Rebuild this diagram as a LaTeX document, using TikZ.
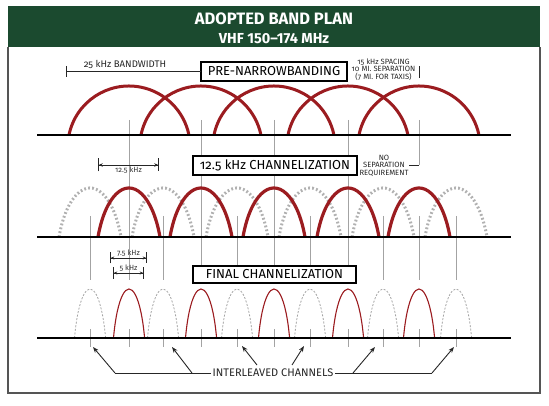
\documentclass[tikz,border=0pt]{standalone}
\usepackage{fontspec}
\setmainfont{Fira Sans}
\newfontfamily\osf[Numbers=OldStyle]{Fira Sans}
\usetikzlibrary{arrows.meta}
\definecolor{bandgreen}{HTML}{1B4A2F}
\definecolor{bandred}{HTML}{9B1C20}
\definecolor{tickgray}{HTML}{A3A3A3}
\definecolor{frameline}{HTML}{555555}
\tikzstyle{every node}=[inner sep=0pt, outer sep=0pt]
\tikzstyle{tick}=[draw=tickgray, line width=0.7pt]
\tikzstyle{base}=[draw=black, line width=2pt]
\tikzstyle{widechan}=[draw=bandred, line width=3pt]
\tikzstyle{midchan}=[draw=bandred, line width=3.2pt]
\tikzstyle{midgap}=[draw=tickgray!85, line width=3pt, dash pattern=on 1.8pt off 2.2pt]
\tikzstyle{finchan}=[draw=bandred, line width=1.1pt]
\tikzstyle{fingap}=[draw=tickgray, line width=0.8pt, dash pattern=on 2pt off 1.6pt]
\tikzstyle{planbox}=[draw=black, line width=1.6pt, fill=white, font=\osf\fontsize{13}{13}\selectfont]
\tikzstyle{note}=[font=\osf\fontsize{7.6}{7.7}\selectfont, align=center, text=black!85]
\tikzstyle{dimtxt}=[font=\osf\fontsize{7.5}{8}\selectfont, text=black!80]
\tikzstyle{dimwide}=[draw=black!85, line width=0.7pt, {Bar[width=13pt]Stealth[length=4pt,width=3.5pt]}-{Stealth[length=4pt,width=3.5pt]Bar[width=13pt]}]
\tikzstyle{dimnarrow}=[draw=black!85, line width=0.7pt, {Bar[width=11pt]Stealth[length=3.5pt,width=3pt]}-{Stealth[length=3.5pt,width=3pt]Bar[width=11pt]}]
\tikzstyle{pointer}=[draw=black!85, line width=0.9pt, -{Stealth[length=6pt,width=4.5pt]}]

\begin{document}
\begin{tikzpicture}[x=1pt,y=1pt]
\useasboundingbox (0,0) rectangle (549,-406);

% frame and header
\fill[bandgreen] (8,-6) rectangle (540,-47);
\draw[frameline, line width=1.2pt] (8,-47) -- (8,-393) -- (540,-393) -- (540,-47);
\node[text=white, font=\bfseries\fontsize{16.5}{17}\selectfont] (ttl) at (274,-19) {ADOPTED BAND PLAN};
\node[text=white, font=\bfseries\fontsize{14.5}{15}\selectfont] (sub) at (274,-38.5) {VHF 150–174 MHz};

% channel guides
\draw[tick] (129,-120) -- (129,-280);
\draw[tick] (201,-120) -- (201,-280);
\draw[tick] (274,-120) -- (274,-280);
\draw[tick] (348,-120) -- (348,-280);
\draw[tick] (419,-120) -- (419,-165);
\draw[tick] (419,-216) -- (419,-280);
\draw[tick] (90,-216) -- (90,-280);
\draw[tick] (163,-216) -- (163,-280);
\draw[tick] (237,-216) -- (237,-280);
\draw[tick] (310,-216) -- (310,-280);
\draw[tick] (383,-216) -- (383,-280);
\draw[tick] (456,-216) -- (456,-280);

\draw[tick] (90,-329) -- (90,-347);
\draw[tick] (129,-329) -- (129,-347);
\draw[tick] (163,-329) -- (163,-347);
\draw[tick] (201,-329) -- (201,-347);
\draw[tick] (237,-329) -- (237,-347);
\draw[tick] (274,-329) -- (274,-347);
\draw[tick] (310,-329) -- (310,-347);
\draw[tick] (348,-329) -- (348,-347);
\draw[tick] (383,-329) -- (383,-347);
\draw[tick] (419,-329) -- (419,-347);
\draw[tick] (456,-329) -- (456,-347);

% pre-narrowbanding
\draw[widechan] (69,-135) arc[start angle=168.5, end angle=11.5, x radius=61.2pt, y radius=61.2pt];
\draw[widechan] (141,-135) arc[start angle=168.5, end angle=11.5, x radius=61.2pt, y radius=61.2pt];
\draw[widechan] (214,-135) arc[start angle=168.5, end angle=11.5, x radius=61.2pt, y radius=61.2pt];
\draw[widechan] (288,-135) arc[start angle=168.5, end angle=11.5, x radius=61.2pt, y radius=61.2pt];
\draw[widechan] (359,-135) arc[start angle=168.5, end angle=11.5, x radius=61.2pt, y radius=61.2pt];
\draw[base] (37,-135) -- (511,-135);

% 12.5 kHz channelization
\draw[midgap] (59,-237) arc[start angle=157.7, end angle=22.3, x radius=33.5pt, y radius=79pt];
\draw[midgap] (132,-237) arc[start angle=157.7, end angle=22.3, x radius=33.5pt, y radius=79pt];
\draw[midgap] (206,-237) arc[start angle=157.7, end angle=22.3, x radius=33.5pt, y radius=79pt];
\draw[midgap] (279,-237) arc[start angle=157.7, end angle=22.3, x radius=33.5pt, y radius=79pt];
\draw[midgap] (352,-237) arc[start angle=157.7, end angle=22.3, x radius=33.5pt, y radius=79pt];
\draw[midgap] (425,-237) arc[start angle=157.7, end angle=22.3, x radius=33.5pt, y radius=79pt];
\draw[midchan] (98,-237) arc[start angle=157.7, end angle=22.3, x radius=33.5pt, y radius=79pt];
\draw[midchan] (170,-237) arc[start angle=157.7, end angle=22.3, x radius=33.5pt, y radius=79pt];
\draw[midchan] (243,-237) arc[start angle=157.7, end angle=22.3, x radius=33.5pt, y radius=79pt];
\draw[midchan] (317,-237) arc[start angle=157.7, end angle=22.3, x radius=33.5pt, y radius=79pt];
\draw[midchan] (388,-237) arc[start angle=157.7, end angle=22.3, x radius=33.5pt, y radius=79pt];
\draw[base] (37,-237) -- (511,-237);

% final channelization
\draw[fingap] (74.5,-338) arc[start angle=157.7, end angle=22.3, x radius=16.8pt, y radius=79pt];
\draw[fingap] (147.5,-338) arc[start angle=157.7, end angle=22.3, x radius=16.8pt, y radius=79pt];
\draw[fingap] (221.5,-338) arc[start angle=157.7, end angle=22.3, x radius=16.8pt, y radius=79pt];
\draw[fingap] (294.5,-338) arc[start angle=157.7, end angle=22.3, x radius=16.8pt, y radius=79pt];
\draw[fingap] (367.5,-338) arc[start angle=157.7, end angle=22.3, x radius=16.8pt, y radius=79pt];
\draw[fingap] (440.5,-338) arc[start angle=157.7, end angle=22.3, x radius=16.8pt, y radius=79pt];
\draw[finchan] (113.5,-338) arc[start angle=157.7, end angle=22.3, x radius=16.8pt, y radius=79pt];
\draw[finchan] (185.5,-338) arc[start angle=157.7, end angle=22.3, x radius=16.8pt, y radius=79pt];
\draw[finchan] (258.5,-338) arc[start angle=157.7, end angle=22.3, x radius=16.8pt, y radius=79pt];
\draw[finchan] (332.5,-338) arc[start angle=157.7, end angle=22.3, x radius=16.8pt, y radius=79pt];
\draw[finchan] (403.5,-338) arc[start angle=157.7, end angle=22.3, x radius=16.8pt, y radius=79pt];
\draw[base] (37,-338) -- (511,-338);

% row labels
\node[planbox, minimum width=146pt, minimum height=19pt] (pre) at (274,-71.5) {PRE-NARROWBANDING};
\node[planbox, minimum width=164pt, minimum height=19pt] (cwide) at (275,-165.5) {12.5 kHz CHANNELIZATION};
\node[planbox, minimum width=163pt, minimum height=17pt, font=\osf\fontsize{13}{13}\selectfont] (cfin) at (274.5,-274.5) {FINAL CHANNELIZATION};

% bandwidth bracket and notes
\node[font=\osf\fontsize{9.6}{10}\selectfont, text=black!85] (bw) at (125,-64) {25 kHz BANDWIDTH};
\coordinate (bwTop) at (66,-66);
\coordinate (bwBot) at (66,-77);
\coordinate (bwMid) at (66,-71.5);
\draw[black!85, line width=0.8pt] (bwTop) -- (bwBot);
\draw[black!85, line width=0.8pt] (bwMid) -- (pre.west);
\node[note] (spc) at (383.5,-69.5) {15 kHz SPACING\\10 MI. SEPARATION\\(7 MI. FOR TAXIS)};
\coordinate (spcTop) at (419.5,-66.5);
\coordinate (spcBot) at (419.5,-78);
\draw[black!85, line width=0.9pt] (spcTop) -- (spcBot);

\node[note, inner xsep=1pt] (nosep) at (384,-165.5) {NO\\SEPARATION\\REQUIREMENT};
\coordinate (nosepR) at (419,-165);
\draw[black!85, line width=0.8pt] (nosep.east |- nosepR) -- (nosepR);

% bandwidth dimensions
\coordinate (dA) at (98,-165);
\coordinate (dB) at (159,-165);
\draw[dimwide] (dA) -- (dB);
\node[dimtxt] (dAB) at (128.5,-170) {12.5 kHz};
\coordinate (eA) at (110,-258);
\coordinate (eB) at (147,-258);
\draw[dimnarrow] (eA) -- (eB);
\node[dimtxt] (eAB) at (128.5,-253.5) {7.5 kHz};
\coordinate (fA) at (113,-273);
\coordinate (fB) at (144,-273);
\draw[dimnarrow] (fA) -- (fB);
\node[dimtxt] (fAB) at (128.5,-268.5) {5 kHz};

% interleaved channels
\node[font=\osf\fontsize{11}{12}\selectfont, text=black!85, inner xsep=1.5pt] (ilv) at (273,-373) {INTERLEAVED CHANNELS};
\coordinate (ilvL) at (115,-373);
\coordinate (ilvA) at (192,-373);
\coordinate (ilvB) at (257,-365);
\coordinate (ilvD) at (292,-365);
\coordinate (ilvE) at (353,-373);
\coordinate (ilvR) at (432,-373);
\coordinate (ch0) at (93,-347);
\coordinate (ch2) at (172,-347);
\coordinate (ch4) at (242,-346);
\coordinate (ch6) at (304,-346);
\coordinate (ch8) at (375,-347);
\coordinate (ch10) at (454,-347);
\draw[black!85, line width=0.9pt] (ilv.west) -- (ilvL);
\draw[black!85, line width=0.9pt] (ilv.east) -- (ilvR);
\draw[pointer] (ilvL) -- (ch0);
\draw[pointer] (ilvA) -- (ch2);
\draw[pointer] (ilvB) -- (ch4);
\draw[pointer] (ilvD) -- (ch6);
\draw[pointer] (ilvE) -- (ch8);
\draw[pointer] (ilvR) -- (ch10);

\end{tikzpicture}
\end{document}
